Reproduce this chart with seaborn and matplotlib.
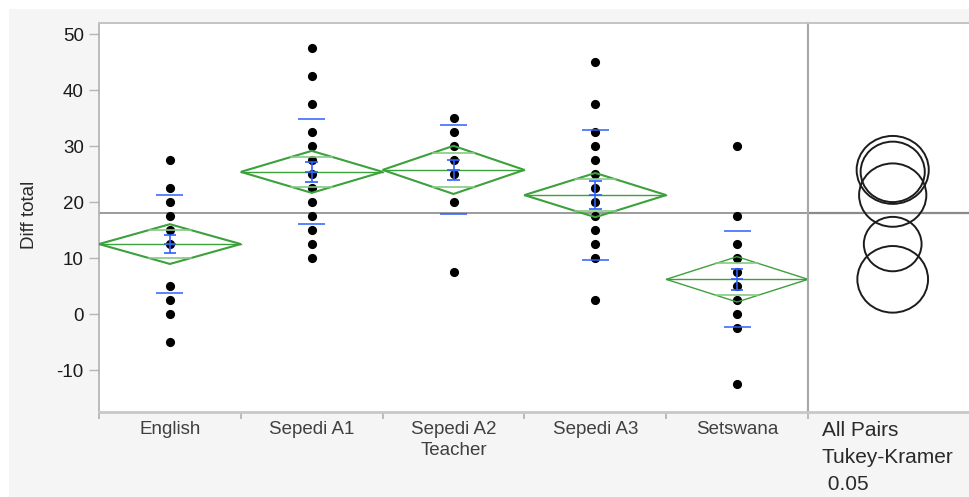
import numpy as np
import pandas as pd
import matplotlib
matplotlib.use("Agg")
import matplotlib.pyplot as plt
import seaborn as sns
from matplotlib.patches import Polygon, Circle, Rectangle

# ---- data -------------------------------------------------------------
groups = ["English", "Sepedi A1", "Sepedi A2\nTeacher", "Sepedi A3", "Setswana"]

english = [27.5, 22.5, 20, 17.5, 15, 12.5, 5, 2.5, 0, -5]
sepedi_a1 = [47.5, 42.5, 37.5, 32.5, 30, 27.5, 25, 22.5, 20, 17.5, 15, 12.5, 10]
sepedi_a2 = [35, 32.5, 30, 27.5, 25, 20, 7.5]
sepedi_a3 = [45, 37.5, 32.5, 30, 27.5, 25, 22.5, 20, 17.5, 15, 12.5, 10, 2.5]
setswana = [30, 17.5, 12.5, 10, 7.5, 5, 2.5, 0, -2.5, -12.5]

# per-group summaries (means diamonds, std dev lines, mean error bars)
group_means = [12.55, 25.45, 25.8, 21.3, 6.25]
ci_half = [3.55, 3.75, 4.3, 3.95, 4.05]
std_dev = [8.8, 9.4, 7.95, 11.6, 8.6]
std_err = [1.55, 1.85, 1.8, 2.45, 1.9]
# Tukey-Kramer comparison circle radii
circle_radius = [4.86, 5.4, 6.07, 5.66, 5.95]
grand_mean = 18.05

y_ticks = [-10, 0, 10, 20, 30, 40, 50]

# ---- figure -----------------------------------------------------------
plt.rcParams["font.family"] = ["Liberation Sans", "DejaVu Sans"]

W, H = 969, 497
fig = plt.figure(figsize=(W / 100, H / 100), dpi=100)
fig.patch.set_facecolor("white")
fig.add_artist(Rectangle((9 / W, 0), 1 - 9 / W, 1 - 9 / H, transform=fig.transFigure,
                         facecolor="#f5f5f5", edgecolor="none", zorder=0))

top_px, bot_px = 22.7, 411.7
left_px, split_px = 99, 808
ax = fig.add_axes([left_px / W, 1 - bot_px / H, (split_px - left_px) / W, (bot_px - top_px) / H])
axr = fig.add_axes([split_px / W, 1 - bot_px / H, (W - split_px) / W, (bot_px - top_px) / H])
for a in (ax, axr):
    a.set_facecolor("white")

ylo, yhi = -17.4, 52.1

df = pd.DataFrame({
    "group": sum([[g] * len(v) for g, v in zip(groups, [english, sepedi_a1, sepedi_a2, sepedi_a3, setswana])], []),
    "value": english + sepedi_a1 + sepedi_a2 + sepedi_a3 + setswana,
})

sns.stripplot(data=df, x="group", y="value", order=groups, jitter=False, color="black",
              size=6.6, linewidth=0, ax=ax, zorder=2)

green = "#3ca03c"
light_green = "#86c986"
blue = "#2f5fff"
diamond_lw = [1.5, 1.5, 1.5, 1.5, 1.0]
for i, (m, c, sd, se) in enumerate(zip(group_means, ci_half, std_dev, std_err)):
    ax.add_patch(Polygon([(i - 0.5, m), (i, m + c), (i + 0.5, m), (i, m - c)], closed=True,
                         fill=False, edgecolor=green, lw=diamond_lw[i], zorder=3))
    ax.plot([i - 0.5, i + 0.5], [m, m], color=green, lw=1.0, zorder=3)
    d = c / np.sqrt(2)
    hw = 0.5 * (1 - 1 / np.sqrt(2))
    for s in (1, -1):
        ax.plot([i - hw, i + hw], [m + s * d] * 2, color=light_green, lw=1.2, zorder=3)
    # std dev lines
    ax.hlines([m - sd, m + sd], i - 0.095, i + 0.095, color=blue, lw=1.1, zorder=4)
    # mean error bar
    ax.vlines(i, m - se, m + se, color=blue, lw=1.2, zorder=4)
    ax.hlines([m - se, m, m + se], i - 0.045, i + 0.045, color=blue, lw=1.2, zorder=4)

ax.axhline(grand_mean, color="#8a8a8a", lw=1.2, zorder=1)

ax.set_xlim(-0.5, 4.5)
ax.set_ylim(ylo, yhi)
ax.set_yticks(y_ticks)
ax.set_yticklabels([str(t) for t in y_ticks], fontsize=13.5, color="#1a1a1a")
ax.set_xticks(range(len(groups)))
ax.set_xticklabels(groups, fontsize=13.5, color="#404040", linespacing=1.25)
ax.set_xticks(np.arange(-0.5, len(groups), 1.0), minor=True)
ax.tick_params(axis="x", which="major", length=0, pad=7)
ax.tick_params(axis="x", which="minor", length=5, color="#b0b0b0", width=1.2)
ax.tick_params(axis="y", length=7, color="#b5b5b5", width=1.0, pad=4)
ax.set_xlabel("")
ax.set_ylabel("")
ax.spines["top"].set_color("#c4c4c4")
ax.spines["top"].set_linewidth(1.4)
ax.spines["left"].set_color("#b0b0b0")
ax.spines["left"].set_linewidth(1.2)
ax.spines["bottom"].set_color("#c8c8c8")
ax.spines["bottom"].set_linewidth(2.0)
ax.spines["right"].set_color("#a8a8a8")
ax.spines["right"].set_linewidth(1.5)

# comparison circles
xr = (W - split_px) / 5.94
cx = (892.7 - split_px) / 5.94
axr.set_xlim(0, xr)
axr.set_ylim(ylo, yhi)
for m, r in zip(group_means, circle_radius):
    axr.add_patch(Circle((cx, m), r, fill=False, edgecolor="#1c1c1c", lw=1.4, zorder=3))
axr.axhline(grand_mean, color="#8a8a8a", lw=1.6, zorder=1)
axr.set_xticks([])
axr.set_yticks([])
axr.spines["right"].set_visible(False)
axr.spines["left"].set_color("#a8a8a8")
axr.spines["left"].set_linewidth(1.5)
axr.spines["top"].set_color("#c4c4c4")
axr.spines["top"].set_linewidth(1.4)
axr.spines["bottom"].set_color("#c8c8c8")
axr.spines["bottom"].set_linewidth(2.0)

fig.text(821.7 / W, 1 - 420.5 / H, "All Pairs\nTukey-Kramer\n 0.05", ha="left", va="top",
         fontsize=15, color="#2a2a2a", linespacing=1.55)
fig.text(30 / W, 1 - 215 / H, "Diff total", rotation=90, ha="center", va="center",
         fontsize=13.5, color="#2a2a2a")

fig.savefig("out.png", dpi=100, facecolor=fig.get_facecolor())
